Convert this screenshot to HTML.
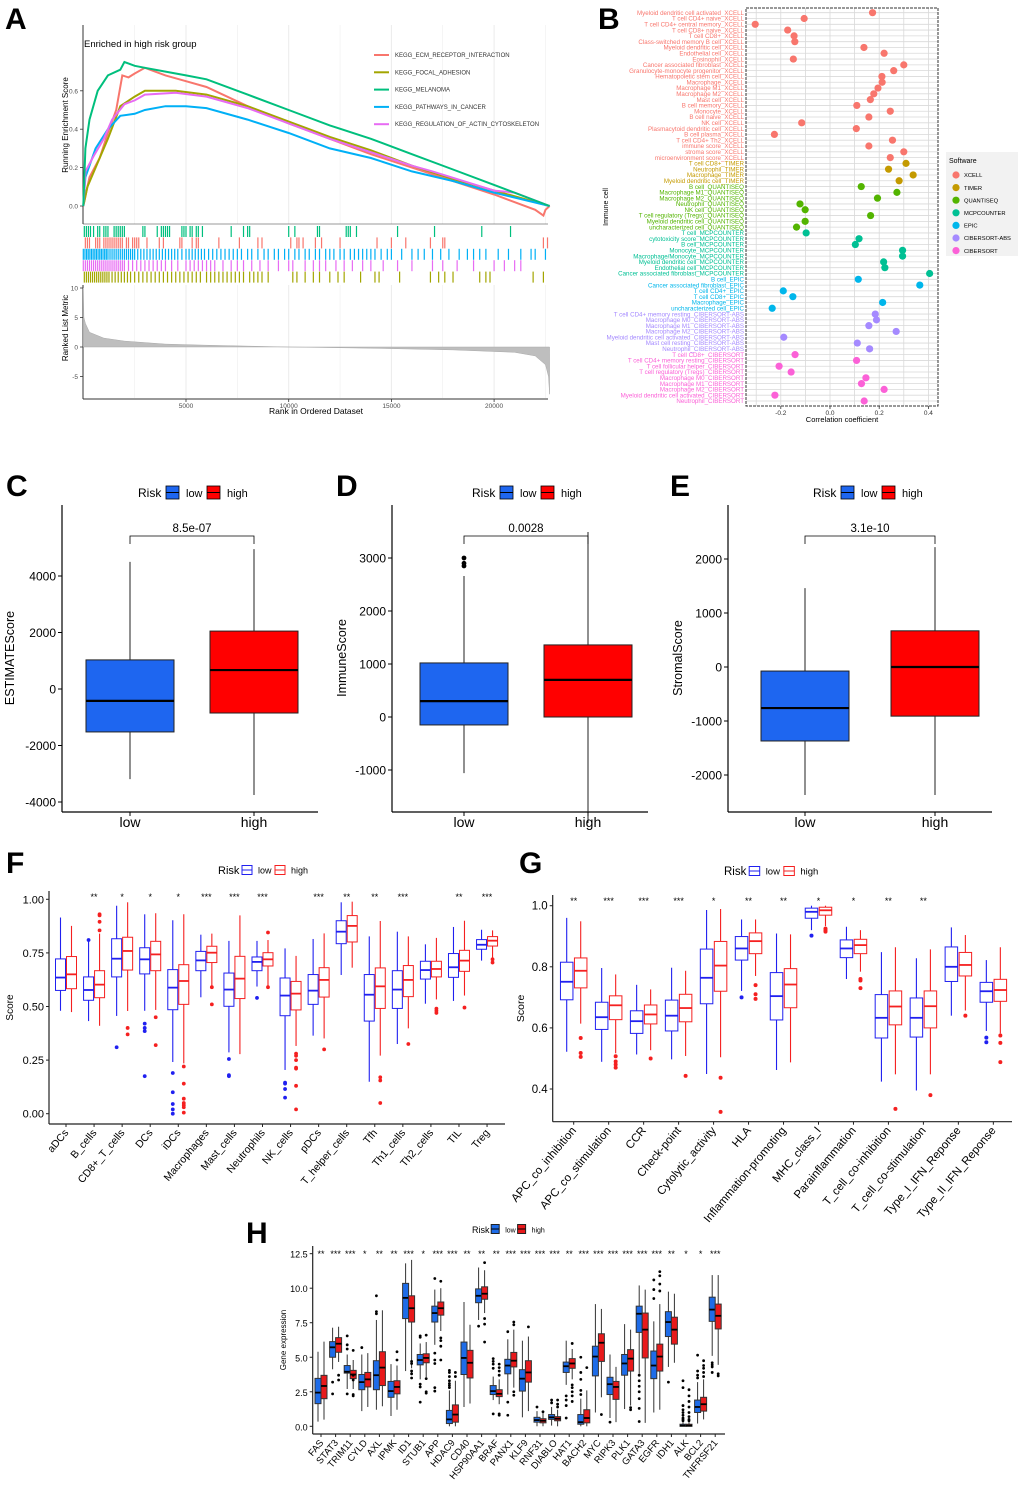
<!DOCTYPE html>
<html><head><meta charset="utf-8">
<style>
html,body{margin:0;padding:0;background:#fff;}
svg{display:block;font-family:"Liberation Sans",Arial,sans-serif;}
</style></head>
<body>
<svg id="fig" width="1020" height="1485" viewBox="0 0 1020 1485" xmlns="http://www.w3.org/2000/svg"></svg>
<script>
// ---------------- DATA ----------------
// Panel A (GSEA)
const gseaNames = ["KEGG_ECM_RECEPTOR_INTERACTION","KEGG_FOCAL_ADHESION","KEGG_MELANOMA","KEGG_PATHWAYS_IN_CANCER","KEGG_REGULATION_OF_ACTIN_CYTOSKELETON"];
const gseaColors = ["#F8766D","#A3A500","#00BF7D","#00B0F6","#E76BF3"];
const esEcm = [[0,0],[300,0.15],[800,0.25],[1200,0.38],[1600,0.5],[1900,0.68],[2200,0.67],[2500,0.69],[3000,0.72],[4000,0.68],[5000,0.65],[6000,0.62],[8000,0.52],[10000,0.43],[12000,0.35],[14000,0.27],[16000,0.2],[18000,0.13],[20000,0.06],[22000,-0.02],[22400,-0.05],[22500,-0.02],[22700,0]];
const esFocal = [[0,0],[200,0.1],[600,0.2],[1200,0.35],[1800,0.52],[2500,0.57],[3000,0.6],[4500,0.6],[6000,0.58],[8000,0.52],[10000,0.44],[12000,0.36],[14000,0.29],[16000,0.21],[18000,0.14],[20000,0.08],[22700,0]];
const esMel = [[0,0],[100,0.3],[300,0.45],[700,0.6],[1200,0.68],[1800,0.71],[2000,0.75],[2500,0.73],[3000,0.72],[4000,0.7],[5000,0.68],[6000,0.66],[8000,0.58],[10000,0.5],[12000,0.42],[14000,0.35],[16000,0.27],[18000,0.19],[20000,0.11],[22700,0]];
const esPath = [[0,0],[100,0.15],[600,0.3],[1200,0.4],[1800,0.47],[2500,0.48],[3000,0.5],[4000,0.52],[5000,0.52],[6000,0.51],[8000,0.45],[10000,0.38],[12000,0.3],[14000,0.25],[16000,0.18],[18000,0.13],[20000,0.07],[22700,0]];
const esActin = [[0,0],[100,0.18],[500,0.26],[1000,0.35],[1400,0.45],[2000,0.53],[2500,0.55],[3000,0.58],[4500,0.59],[6000,0.57],[8000,0.51],[10000,0.43],[12000,0.35],[14000,0.28],[16000,0.21],[17000,0.18],[20000,0.08],[21000,0.07],[22700,0]];
const hitsMel = [50,150,250,350,500,700,800,1000,1100,1200,1500,1600,1700,1800,1900,2000,2900,3000,3600,3800,3900,4000,4100,4200,4800,4900,5000,5200,5300,5500,5600,5800,7200,7800,8000,8100,10000,10300,11400,11500,12800,12900,13000,13300,15300,17100,19400,20800];
const hitsEcm = [100,200,300,600,700,800,1000,1100,1200,1300,1400,1500,1600,1700,1800,1900,2100,2200,2400,2500,2600,2700,3100,3700,3900,4700,4800,5300,5500,5600,6600,7600,8500,8700,10100,10400,10500,10700,11300,11600,12500,14300,15000,15700,16900,17500,17600,22400,22600];
const hitsPath = [0,80,160,240,320,400,480,560,640,720,800,880,960,1040,1120,1200,1300,1400,1500,1600,1700,1800,1900,2000,2100,2200,2300,2400,2500,2650,2800,2950,3100,3250,3400,3550,3700,3850,4000,4150,4300,4450,4600,4800,5000,5150,5300,5450,5600,5750,5900,6100,6300,6500,6700,6900,7100,7300,7500,7700,8000,8200,8500,8800,9000,9300,9500,9800,10000,10300,10500,10800,11000,11300,11500,11800,12000,12200,12500,12700,13000,13200,13400,13600,13800,14000,14200,14500,14800,15000,15500,16000,16300,16600,17000,17400,17800,18300,18700,19000,19300,19600,20200,20700,21300,21800,22000,22500];
const hitsActin = [0,100,200,300,400,500,600,700,800,900,1000,1100,1200,1300,1400,1500,1600,1700,1800,1900,2000,2200,2400,2600,2800,3000,3200,3400,3600,3800,4000,4300,4600,5000,5200,5400,5600,5800,6000,6200,6400,6800,7200,7500,7800,8200,8600,9000,9500,10000,10200,10800,11200,11500,11800,12300,12700,13100,13600,14000,14600,15300,16000,17000,17500,18200,19000,20000,20500,21000,21300];
const hitsFocal = [50,150,250,350,450,550,650,750,850,950,1050,1150,1250,1400,1550,1700,1850,2000,2150,2300,2500,2700,2900,3100,3300,3500,3700,3900,4100,4300,4500,4700,4900,5100,5300,5500,5700,6000,6200,6400,6600,6800,7000,7200,7400,7600,7800,8100,8300,8500,8700,9000,10200,10400,10800,11200,11500,12000,12400,12700,13500,14200,14400,15400,16900,17300,17600,18000,19300,19600,19800,21900,22400];
const rankedMetric = [[0,10],[30,5],[100,4],[300,2.5],[1000,1.5],[2000,1.0],[4000,0.5],[6000,0.3],[10000,0],[14000,-0.2],[18000,-0.5],[21000,-0.9],[22000,-1.5],[22500,-3],[22650,-5],[22700,-8]];
const aXTicks = [5000,10000,15000,20000];
const aYTicks = [0,0.2,0.4,0.6];
const aMetricTicks = [10,5,0,-5];

// Panel B
const bLabels = ["Myeloid dendritic cell activated_XCELL","T cell CD4+ naive_XCELL","T cell CD4+ central memory_XCELL","T cell CD8+ naive_XCELL","T cell CD8+_XCELL","Class-switched memory B cell_XCELL","Myeloid dendritic cell_XCELL","Endothelial cell_XCELL","Eosinophil_XCELL","Cancer associated fibroblast_XCELL","Granulocyte-monocyte progenitor_XCELL","Hematopoietic stem cell_XCELL","Macrophage_XCELL","Macrophage M1_XCELL","Macrophage M2_XCELL","Mast cell_XCELL","B cell memory_XCELL","Monocyte_XCELL","B cell naive_XCELL","NK cell_XCELL","Plasmacytoid dendritic cell_XCELL","B cell plasma_XCELL","T cell CD4+ Th2_XCELL","immune score_XCELL","stroma score_XCELL","microenvironment score_XCELL",
"T cell CD8+_TIMER","Neutrophil_TIMER","Macrophage_TIMER","Myeloid dendritic cell_TIMER",
"B cell_QUANTISEQ","Macrophage M1_QUANTISEQ","Macrophage M2_QUANTISEQ","Neutrophil_QUANTISEQ","NK cell_QUANTISEQ","T cell regulatory (Tregs)_QUANTISEQ","Myeloid dendritic cell_QUANTISEQ","uncharacterized cell_QUANTISEQ",
"T cell_MCPCOUNTER","cytotoxicity score_MCPCOUNTER","B cell_MCPCOUNTER","Monocyte_MCPCOUNTER","Macrophage/Monocyte_MCPCOUNTER","Myeloid dendritic cell_MCPCOUNTER","Endothelial cell_MCPCOUNTER","Cancer associated fibroblast_MCPCOUNTER",
"B cell_EPIC","Cancer associated fibroblast_EPIC","T cell CD4+_EPIC","T cell CD8+_EPIC","Macrophage_EPIC","uncharacterized cell_EPIC",
"T cell CD4+ memory resting_CIBERSORT-ABS","Macrophage M0_CIBERSORT-ABS","Macrophage M1_CIBERSORT-ABS","Macrophage M2_CIBERSORT-ABS","Myeloid dendritic cell activated_CIBERSORT-ABS","Mast cell resting_CIBERSORT-ABS","Neutrophil_CIBERSORT-ABS",
"T cell CD8+_CIBERSORT","T cell CD4+ memory resting_CIBERSORT","T cell follicular helper_CIBERSORT","T cell regulatory (Tregs)_CIBERSORT","Macrophage M0_CIBERSORT","Macrophage M1_CIBERSORT","Macrophage M2_CIBERSORT","Myeloid dendritic cell activated_CIBERSORT","Neutrophil_CIBERSORT"];
const bValues = [0.173,-0.105,-0.304,-0.172,-0.146,-0.143,0.138,0.22,-0.149,0.3,0.259,0.211,0.212,0.195,0.178,0.164,0.109,0.245,0.158,-0.115,0.107,-0.226,0.254,0.158,0.3,0.245,
0.309,0.238,0.338,0.281,
0.127,0.272,0.193,-0.122,-0.101,0.165,-0.101,-0.136,
-0.097,0.118,0.103,0.295,0.295,0.218,0.223,0.405,
0.115,0.365,-0.19,-0.151,0.214,-0.235,
0.184,0.189,0.158,0.269,-0.188,0.111,0.161,
-0.142,0.108,-0.207,-0.158,0.146,0.128,0.22,-0.224,0.139];
const bSoftwares = ["XCELL","TIMER","QUANTISEQ","MCPCOUNTER","EPIC","CIBERSORT-ABS","CIBERSORT"];
const bSoftwareColors = ["#F8766D","#C49A00","#53B400","#00C094","#00B6EB","#A58AFF","#FB61D7"];
const bXTicks = [-0.2,0,0.2,0.4];

// Panels C, D, E : [lowerWhisker, q1, median, q3, upperWhisker]
const cLow = [-3190,-1520,-420,1030,4500];
const cHigh = [-3750,-850,670,2050,4950];
const cTicks = [4000,2000,0,-2000,-4000];
const dLow = [-1060,-150,300,1020,2660];
const dHigh = [-2000,0,700,1360,3490];
const dLowOut = [3000,2900,2850];
const dTicks = [3000,2000,1000,0,-1000];
const eLow = [-2370,-1370,-760,-75,1460];
const eHigh = [-2370,-910,0,670,2220];
const eTicks = [2000,1000,0,-1000,-2000];
const pValues = ["8.5e-07","0.0028","3.1e-10"];

// Panel F
const fCats = ["aDCs","B_cells","CD8+_T_cells","DCs","iDCs","Macrophages","Mast_cells","Neutrophils","NK_cells","pDCs","T_helper_cells","Tfh","Th1_cells","Th2_cells","TIL","Treg"];
const fLow = [[0.48,0.575,0.635,0.722,0.915],[0.432,0.529,0.577,0.638,0.807],[0.456,0.638,0.723,0.816,0.97],[0.48,0.652,0.72,0.774,0.93],[0.241,0.485,0.588,0.672,0.902],[0.543,0.667,0.715,0.757,0.835],[0.286,0.501,0.579,0.656,0.806],[0.593,0.667,0.708,0.731,0.806],[0.204,0.457,0.551,0.633,0.771],[0.364,0.51,0.574,0.649,0.815],[0.647,0.793,0.849,0.9,0.986],[0.149,0.432,0.555,0.649,0.827],[0.325,0.491,0.579,0.667,0.849],[0.513,0.628,0.67,0.711,0.79],[0.526,0.636,0.683,0.747,0.871],[0.714,0.767,0.788,0.812,0.858]];
const fHigh = [[0.474,0.583,0.65,0.733,0.876],[0.41,0.541,0.602,0.667,0.84],[0.479,0.67,0.759,0.823,0.986],[0.484,0.667,0.743,0.804,0.935],[0.235,0.51,0.619,0.695,0.93],[0.593,0.705,0.751,0.781,0.84],[0.278,0.537,0.63,0.734,0.925],[0.593,0.689,0.72,0.751,0.81],[0.316,0.484,0.56,0.617,0.736],[0.351,0.544,0.624,0.681,0.841],[0.681,0.801,0.876,0.924,0.989],[0.271,0.491,0.594,0.68,0.899],[0.398,0.546,0.624,0.691,0.827],[0.533,0.638,0.675,0.711,0.82],[0.551,0.664,0.714,0.762,0.9],[0.725,0.782,0.807,0.826,0.855]];
const fLowOut = [[],[0.81],[0.31],[0.42,0.40,0.385,0.175],[0.19,0.10,0.045,0.02,0],[],[0.255,0.18,0.175],[0.54],[0.145,0.14,0.115,0.075],[],[],[],[],[],[],[]];
const fHighOut = [[],[0.93,0.925,0.895,0.855],[0.40,0.37],[0.45,0.32],[0.22,0.14,0.07,0.05,0.04,0.03,0.005],[0.59,0.51],[],[0.845,0.59],[0.28,0.27,0.25,0.215,0.21,0.13,0.02],[0.30],[],[0.17,0.155,0.05],[0.325],[0.49,0.48,0.47],[0.495],[0.72,0.705]];
const fStars = ["","**","*","*","*","***","***","***","","***","**","**","***","","**","***"];
const fTicks = [1.00,0.75,0.50,0.25,0.00];

// Panel G
const gCats = ["APC_co_inhibition","APC_co_stimulation","CCR","Check-point","Cytolytic_activity","HLA","Inflammation-promoting","MHC_class_I","Parainflammation","T_cell_co-inhibition","T_cell_co-stimulation","Type_I_IFN_Reponse","Type_II_IFN_Reponse"];
const gLow = [[0.522,0.692,0.751,0.815,0.96],[0.489,0.595,0.635,0.684,0.796],[0.513,0.582,0.622,0.656,0.741],[0.497,0.59,0.64,0.691,0.797],[0.449,0.679,0.764,0.858,0.986],[0.721,0.822,0.86,0.899,0.955],[0.462,0.626,0.704,0.781,0.909],[0.92,0.959,0.98,0.992,1.0],[0.76,0.83,0.86,0.888,0.931],[0.424,0.567,0.633,0.709,0.848],[0.395,0.57,0.633,0.698,0.828],[0.64,0.752,0.8,0.865,0.929],[0.59,0.684,0.72,0.749,0.822]];
const gHigh = [[0.614,0.731,0.787,0.829,0.949],[0.517,0.627,0.674,0.705,0.775],[0.527,0.613,0.644,0.675,0.726],[0.508,0.62,0.665,0.71,0.787],[0.504,0.72,0.804,0.883,0.989],[0.77,0.843,0.884,0.911,0.955],[0.487,0.666,0.742,0.794,0.906],[0.933,0.969,0.985,0.995,1.0],[0.784,0.843,0.871,0.89,0.92],[0.448,0.61,0.67,0.721,0.864],[0.448,0.6,0.671,0.721,0.857],[0.657,0.77,0.806,0.847,0.904],[0.582,0.687,0.724,0.759,0.864]];
const gLowOut = [[],[],[],[],[],[0.70],[],[0.902],[],[],[],[],[0.568,0.553]];
const gHighOut = [[0.567,0.518,0.505],[0.507,0.49,0.48,0.47],[0.50],[0.443],[0.437,0.325],[0.74,0.71,0.695],[],[0.925,0.92,0.915],[0.76,0.755,0.73],[0.335],[0.38],[0.64],[0.575,0.551,0.488]];
const gStars = ["**","***","***","***","*","**","**","*","*","**","**","",""];
const gTicks = [1.0,0.8,0.6,0.4];

// Panel H
const hCats = ["FAS","STAT3","TRIM11","CYLD","AXL","IPMK","ID1","STUB1","APP","HDAC9","CD40","HSP90AA1","BRAF","PANX1","KLF9","RNF31","DIABLO","HAT1","BACH2","MYC","RIPK3","PLK1","GATA3","EGFR","IDH1","ALK","BCL2","TNFRSF21"];
const hLow = [[0.34,1.64,2.44,3.47,5.4],[4.13,5.0,5.72,6.13,7.14],[2.7,3.85,3.95,4.4,5.2],[1.1,2.65,3.2,3.75,5.2],[1.2,2.65,3.7,4.75,7.7],[0.75,2.1,2.55,3.25,4.5],[4.0,7.8,9.3,10.35,11.8],[3.4,4.45,4.8,5.2,6.0],[5.9,7.55,8.2,8.7,9.9],[0,0.2,0.5,1.15,2.6],[1.4,3.75,4.95,6.1,9.0],[7.7,8.95,9.45,9.95,11.5],[1.9,2.3,2.55,2.95,3.6],[2.3,3.8,4.4,4.85,6.3],[0.65,2.55,3.45,4.1,6.2],[0,0.3,0.45,0.65,1.1],[0.05,0.5,0.65,0.85,1.4],[3.0,3.9,4.35,4.65,6.2],[0,0.15,0.3,0.85,2.0],[1.0,3.65,5.05,5.8,8.85],[0.6,2.3,3.05,3.55,5.2],[1.25,3.7,4.55,5.2,7.4],[3.8,6.8,8.15,8.7,10.2],[1.0,3.45,4.4,5.45,7.6],[4.3,6.5,7.55,8.3,9.75],[0,0,0.05,0.15,0.3],[0.2,1.0,1.4,1.9,3.2],[5.1,7.6,8.45,9.35,10.95]];
const hHigh = [[0.48,2.0,2.92,3.69,6.13],[4.66,5.36,5.98,6.42,7.21],[2.7,3.45,3.75,4.05,4.8],[1.4,2.85,3.4,3.9,5.3],[1.45,2.95,4.25,5.4,8.4],[1.2,2.35,2.85,3.3,4.4],[4.2,7.55,8.55,9.45,12.05],[3.55,4.6,4.95,5.25,6.1],[6.9,8.05,8.55,9.0,10.0],[0,0.3,0.85,1.55,3.3],[1.65,3.5,4.6,5.5,7.35],[8.2,9.2,9.6,10.1,11.3],[1.6,2.15,2.35,2.65,3.4],[2.8,4.3,4.75,5.35,7.0],[1.1,3.2,3.9,4.75,6.5],[0,0.25,0.4,0.55,0.95],[0,0.4,0.55,0.7,1.2],[3.4,4.2,4.55,4.9,5.6],[0,0.25,0.6,1.2,2.6],[2.1,4.7,6.05,6.7,8.5],[0.3,1.95,2.85,3.25,4.3],[1.5,4.0,4.9,5.55,7.0],[0.25,4.95,7.0,8.2,9.9],[1.2,4.0,5.05,5.95,8.85],[4.6,5.95,7.0,7.9,9.6],[0,0,0.05,0.15,0.3],[0.5,1.1,1.6,2.1,3.4],[4.45,7.05,8.0,8.85,10.95]];
const hLowOut = [[],[3.2,2.35],[6.55,5.9,5.6,2.35],[5.7],[9.45,8.3,8.15],[],[],[6.55,6.45,3.05,2.85,1.75],[10.7,5.3,4.8,4.55,2.8,2.55],[4.05,3.9,3.6,3.3,3.1,2.95,2.8],[],[7.25],[4.9,4.7,4.5,4.2,0.9],[6.85,1.75,0.8],[],[1.4],[1.9,1.7],[2.2,1.9,1.5,0.6],[5.0,3.9,3.4,2.6,2.3],[],[0.3],[],[3.7,3.3,2.9,2.5,2.0,1.3,0.35],[10.6,9.9,9.25],[3.2],[3.3,2.8,1.5,1.2,1.0,0.8,0.6,0.5,0.4],[5.15,4.0,3.7,3.5],[4.6,4.45,4.3,3.9]];
const hHighOut = [[],[3.7,3.35],[5.5,3.7,3.35,2.3,2.2],[],[],[5.4,4.8],[4.7,4.55,4.0,3.8,3.5],[6.6,3.45,2.5,2.4],[10.5,6.4,6.2,5.8,4.8],[3.9,3.6],[],[11.85,7.8,7.4,6.1],[4.5,4.25,4.0,3.7,0.9,0.8],[7.55,7.35,2.5,2.25],[7.2],[1.05],[1.9,1.6,1.4],[6.0,3.0,2.8,2.5,2.2,1.8],[4.25],[0.85],[],[1.35,1.2],[],[11.2,10.9,10.3,9.8],[],[2.65,2.2,1.8,1.4,1.0,0.7,0.5,0.4],[4.75,4.4,4.2,3.9,3.6],[3.8,3.65]];
const hStars = ["**","***","***","*","**","**","***","*","***","***","**","**","**","***","***","***","***","**","***","***","***","***","***","***","**","*","*","***"];
const hTicks = [12.5,10.0,7.5,5.0,2.5,0.0];

// ---------------- DRAWING ----------------
const NS = "http://www.w3.org/2000/svg";
const svg = document.getElementById("fig");
function mk(tag, attrs, parent) {
  const e = document.createElementNS(NS, tag);
  for (const k in attrs) e.setAttribute(k, attrs[k]);
  (parent || svg).appendChild(e);
  return e;
}
function grp(name) {
  const g = mk("g", {});
  
  
  return g;
}
function txt(p, x, y, s, size, anchor, fill, extra) {
  const a = {x: x, y: y, "font-size": size, "text-anchor": anchor || "start", fill: fill || "#000"};
  if (extra) for (const k in extra) a[k] = extra[k];
  const t = mk("text", a, p);
  t.textContent = s;
  return t;
}
function line(p, x1, y1, x2, y2, stroke, w, extra) {
  const a = {x1: x1, y1: y1, x2: x2, y2: y2, stroke: stroke, "stroke-width": w};
  if (extra) for (const k in extra) a[k] = extra[k];
  return mk("line", a, p);
}
function panelLabel(s, x, y) {
  const t = txt(svg, x, y, s, 30, "start", "#000", {"font-weight": "bold"});
  
  
}

// ===== Panel A =====
(function () {
  const g = grp("panel-a-gsea");
  panelLabel("A", 5, 29);
  const X = r => 83.3 + r / 5000 * 102.7;
  const Yes = v => 206 - v * 192;
  const Ym = v => 347 - v * 5.9;
  for (let r = 2500; r <= 22500; r += 2500) {
    const gl = line(g, X(r), 25, X(r), 224, "#EBEBEB", r % 5000 ? 0.5 : 1);
    
    const gl2 = line(g, X(r), 285, X(r), 398, "#EBEBEB", r % 5000 ? 0.5 : 1);
    
  }
  const ttl = txt(g, 84, 47, "Enriched in high risk group", 9.5);
  
  line(g, 83, 25, 83, 224, "#333", 1);
  line(g, 83, 224, 548, 224, "#333", 0.5);
  line(g, 83, 285, 83, 399, "#333", 1);
  line(g, 83, 399, 548, 399, "#333", 1);
  aYTicks.forEach(v => {
    line(g, 80, Yes(v), 83, Yes(v), "#333", 0.8);
    const t = txt(g, 78, Yes(v) + 2.5, v.toFixed(1), 6.5, "end", "#4D4D4D");
    
  });
  aMetricTicks.forEach(v => {
    line(g, 80, Ym(v), 83, Ym(v), "#333", 0.8);
    const t = txt(g, 78, Ym(v) + 2.5, String(v), 6.5, "end", "#4D4D4D");
    
  });
  aXTicks.forEach(v => {
    line(g, X(v), 399, X(v), 402, "#333", 0.8);
    const t = txt(g, X(v), 408, String(v), 6.5, "middle", "#4D4D4D");
    
  });
  const yt1 = txt(g, 0, 0, "Running Enrichment Score", 8, "middle", "#000", {transform: "translate(68,125) rotate(-90)"});
  
  const yt2 = txt(g, 0, 0, "Ranked List Metric", 8, "middle", "#000", {transform: "translate(68,328) rotate(-90)"});
  
  const xt = txt(g, 316, 414, "Rank in Ordered Dataset", 8.5, "middle");
  
  const series = [esEcm, esFocal, esMel, esPath, esActin];
  const order = [0, 1, 3, 4, 2];
  order.forEach(i => {
    const pts = series[i].map(p => X(p[0]).toFixed(1) + "," + Yes(p[1]).toFixed(1)).join(" ");
    const pl = mk("polyline", {points: pts, fill: "none", stroke: gseaColors[i], "stroke-width": 2}, g);
    
    
  });
  gseaNames.forEach((n, i) => {
    const y = 55 + i * 17.3;
    line(g, 374, y, 389, y, gseaColors[i], 2);
    const t = txt(g, 395, y + 2, n, 6, "start", "#333");
    
    
  });
  const hitSets = [hitsMel, hitsEcm, hitsPath, hitsActin, hitsFocal];
  const hitColors = ["#00BF7D", "#F8766D", "#00B0F6", "#E76BF3", "#A3A500"];
  hitSets.forEach((hs, k) => {
    const y0 = 226 + k * 11.4;
    hs.forEach(r => {
      const tk = line(g, X(r), y0, X(r), y0 + 11, hitColors[k], 1.2);
      
    });
  });
  let d = "M" + X(0) + "," + Ym(0);
  rankedMetric.forEach(p => { d += " L" + X(p[0]).toFixed(1) + "," + Ym(p[1]).toFixed(1); });
  d += " L" + X(22700) + "," + Ym(0) + " Z";
  const area = mk("path", {d: d, fill: "#BEBEBE", stroke: "#AAAAAA", "stroke-width": 0.5}, g);
  
  
})();

// ===== Panel B =====
(function () {
  const g = grp("panel-b-correlation");
  panelLabel("B", 598, 29);
  const X = v => 830 + v * 246;
  const n = bLabels.length;
  const Y = i => 12.7 + i * (388.3 / (n - 1));
  mk("rect", {x: 746, y: 8, width: 192, height: 398, fill: "#fff", stroke: "none"}, g);
  for (let v = -0.3; v <= 0.41; v += 0.1) {
    const gl = line(g, X(v), 8, X(v), 406, "#D9D9D9", 0.8);
    
  }
  const starts = [0, 26, 30, 38, 46, 52, 59, 68];
  function swIndex(i) { for (let k = 0; k < 7; k++) if (i < starts[k + 1]) return k; return 6; }
  for (let i = 0; i < n; i++) {
    const gl = line(g, 746, Y(i), 938, Y(i), "#D9D9D9", 0.8);
    
  }
  const frame = mk("rect", {x: 746, y: 8, width: 192, height: 398, fill: "none", stroke: "#333", "stroke-width": 1, "stroke-dasharray": "3,1"}, g);
  
  for (let i = 0; i < n; i++) {
    const k = swIndex(i);
    const t = txt(g, 744, Y(i) + 2.2, bLabels[i], 6.2, "end", bSoftwareColors[k]);
    
    const c = mk("circle", {cx: X(bValues[i]), cy: Y(i), r: 3.6, fill: bSoftwareColors[k]}, g);
    
    
  }
  bXTicks.forEach(v => {
    line(g, X(v), 406, X(v), 409, "#333", 0.8);
    const t = txt(g, X(v), 415, v === 0 ? "0.0" : v.toFixed(1), 6.5, "middle", "#333");
    
  });
  const xt = txt(g, 842, 422, "Correlation coefficient", 7.5, "middle");
  
  const yt = txt(g, 0, 0, "Immune cell", 7, "middle", "#000", {transform: "translate(608,207) rotate(-90)"});
  
  mk("rect", {x: 946, y: 152, width: 72, height: 104, fill: "#F2F2F2"}, g);
  const lt = txt(g, 949, 163, "Software", 7, "start");
  
  bSoftwares.forEach((s, k) => {
    const y = 175 + k * 12.6;
    const c = mk("circle", {cx: 956, cy: y, r: 3.6, fill: bSoftwareColors[k]}, g);
    
    const t = txt(g, 964, y + 2.2, s, 5.8, "start");
    
    
  });
})();

// ===== Panels C, D, E =====
function scorePanel(cfg) {
  const g = grp(cfg.name);
  panelLabel(cfg.label, cfg.lx, 496);
  const Y = cfg.Y;
  const lgY = 492;
  const rt = txt(g, cfg.legX, lgY + 5, "Risk", 12);
  
  const s1 = mk("rect", {x: cfg.legX + 28, y: lgY - 6, width: 13, height: 13, fill: "#1E66F0", stroke: "#000", "stroke-width": 0.8}, g);
  
  line(g, cfg.legX + 28, lgY + 0.5, cfg.legX + 41, lgY + 0.5, "#000", 1);
  const l1 = txt(g, cfg.legX + 48, lgY + 5, "low", 11);
  
  
  const s2 = mk("rect", {x: cfg.legX + 69, y: lgY - 6, width: 13, height: 13, fill: "#FF0000", stroke: "#000", "stroke-width": 0.8}, g);
  
  line(g, cfg.legX + 69, lgY + 0.5, cfg.legX + 82, lgY + 0.5, "#000", 1);
  const l2 = txt(g, cfg.legX + 89, lgY + 5, "high", 11);
  
  
  line(g, cfg.x0, 505, cfg.x0, 812, "#000", 1.2);
  line(g, cfg.x0, 812, cfg.x1, 812, "#000", 1.2);
  cfg.ticks.forEach(v => {
    line(g, cfg.x0 - 4, Y(v), cfg.x0, Y(v), "#000", 1);
    const t = txt(g, cfg.x0 - 6, Y(v) + 4.5, String(v), 12, "end");
    
  });
  const yt = txt(g, 0, 0, cfg.ytitle, 12.5, "middle", "#000", {transform: "translate(" + cfg.ytx + ",658) rotate(-90)"});
  
  const groups = [cfg.low, cfg.high];
  const cols = ["#1E66F0", "#FF0000"];
  const names = ["low", "high"];
  groups.forEach((s, i) => {
    const cx = cfg.cx[i];
    const w = 44;
    const wl = line(g, cx, Y(s[0]), cx, Y(s[4]), "#222", 1);
    
    const b = mk("rect", {x: cx - w, y: Y(s[3]), width: 2 * w, height: Y(s[1]) - Y(s[3]), fill: cols[i], stroke: "#222", "stroke-width": 1}, g);
    
    
    const m = line(g, cx - w, Y(s[2]), cx + w, Y(s[2]), "#000", 2.2);
    
    line(g, cx, 812, cx, 816, "#000", 1);
    const t = txt(g, cx, 827, names[i], 14, "middle");
    
  });
  (cfg.lowOut || []).forEach(v => {
    const c = mk("circle", {cx: cfg.cx[0], cy: Y(v), r: 2.4, fill: "#000"}, g);
    
  });
  const by = 536;
  const br = mk("polyline", {points: cfg.cx[0] + "," + (by + 8) + " " + cfg.cx[0] + "," + by + " " + cfg.cx[1] + "," + by + " " + cfg.cx[1] + "," + (by + 8), fill: "none", stroke: "#000", "stroke-width": 0.8}, g);
  
  const pt = txt(g, (cfg.cx[0] + cfg.cx[1]) / 2, by - 4, cfg.p, 11.5, "middle");
  
}
scorePanel({name: "panel-c-estimate", label: "C", lx: 6, legX: 138, x0: 62, x1: 318, cx: [130, 254], Y: v => 689 - v * 0.02825, ticks: cTicks, low: cLow, high: cHigh, ytitle: "ESTIMATEScore", ytx: 14, p: pValues[0]});
scorePanel({name: "panel-d-immune", label: "D", lx: 336, legX: 472, x0: 392, x1: 648, cx: [464, 588], Y: v => 717 - v * 0.053, ticks: dTicks, low: dLow, high: dHigh, lowOut: dLowOut, ytitle: "ImmuneScore", ytx: 346, p: pValues[1]});
scorePanel({name: "panel-e-stromal", label: "E", lx: 670, legX: 813, x0: 728, x1: 992, cx: [805, 935], Y: v => 667 - v * 0.054, ticks: eTicks, low: eLow, high: eHigh, ytitle: "StromalScore", ytx: 682, p: pValues[2]});

// ===== Box panels F, G, H =====
function boxPanel(cfg) {
  const g = grp(cfg.name);
  panelLabel(cfg.label, cfg.lx, cfg.ly);
  const Y = cfg.Y;
  const X = i => cfg.c0 + i * cfg.step;
  const ly = cfg.legY;
  const rt = txt(g, cfg.legX, ly + 4, "Risk", cfg.legFont + 1);
  
  const lx1 = cfg.legX + cfg.legFont * 2.4;
  const sw1 = mk("rect", {x: lx1, y: ly - 4.5, width: cfg.legFont, height: 9, fill: cfg.filled ? cfg.colors[0] : "#fff", stroke: cfg.filled ? "#222" : cfg.colors[0], "stroke-width": 1}, g);
  
  line(g, lx1, ly, lx1 + cfg.legFont, ly, cfg.filled ? "#000" : cfg.colors[0], 1);
  const t1 = txt(g, lx1 + cfg.legFont + 6, ly + 3.5, "low", cfg.legFont - 1);
  
  
  const lx2 = lx1 + cfg.legFont * 3.3;
  const sw2 = mk("rect", {x: lx2, y: ly - 4.5, width: cfg.legFont, height: 9, fill: cfg.filled ? cfg.colors[1] : "#fff", stroke: cfg.filled ? "#222" : cfg.colors[1], "stroke-width": 1}, g);
  
  line(g, lx2, ly, lx2 + cfg.legFont, ly, cfg.filled ? "#000" : cfg.colors[1], 1);
  const t2 = txt(g, lx2 + cfg.legFont + 6, ly + 3.5, "high", cfg.legFont - 1);
  
  
  line(g, cfg.x0, cfg.yTop, cfg.x0, cfg.yBot, "#222", 1.2);
  line(g, cfg.x0, cfg.yBot, cfg.x1, cfg.yBot, "#222", 1.2);
  cfg.ticks.forEach(v => {
    line(g, cfg.x0 - 3, Y(v), cfg.x0, Y(v), "#222", 1);
    const t = txt(g, cfg.x0 - 5, Y(v) + 4, v.toFixed(cfg.dec), cfg.tickFont, "end");
    
  });
  const yt = txt(g, 0, 0, cfg.ytitle, cfg.tickFont - 1, "middle", "#000", {transform: "translate(" + cfg.ytx + "," + ((cfg.yTop + cfg.yBot) / 2) + ") rotate(-90)"});
  
  const sets = [[cfg.low, cfg.lowOut], [cfg.high, cfg.highOut]];
  cfg.cats.forEach((c, i) => {
    const cx = X(i);
    line(g, cx, cfg.yBot, cx, cfg.yBot + 3, "#222", 1);
    const lt = txt(g, 0, 0, c, cfg.labFont, "end", "#000", {transform: "translate(" + (cx + 3) + "," + (cfg.yBot + 9) + ") rotate(-50)"});
    
    if (cfg.stars[i]) {
      const st = txt(g, cx, cfg.starY, cfg.stars[i], 9, "middle");
      
    }
    sets.forEach((pair, k) => {
      const s = pair[0][i];
      const bx = cx + cfg.off[k];
      const col = cfg.colors[k];
      const hw = cfg.bw / 2;
      const stroke = cfg.filled ? "#333" : col;
      const wl = line(g, bx, Y(s[0]), bx, Y(s[4]), stroke, cfg.filled ? 1 : 1.1);
      
      const b = mk("rect", {x: bx - hw, y: Y(s[3]), width: cfg.bw, height: Math.max(0.5, Y(s[1]) - Y(s[3])), fill: cfg.filled ? col : "#fff", stroke: stroke, "stroke-width": 1}, g);
      
      
      const m = line(g, bx - hw, Y(s[2]), bx + hw, Y(s[2]), cfg.filled ? "#000" : col, 1.8);
      
      pair[1][i].forEach(v => {
        const o = mk("circle", {cx: bx, cy: Y(v), r: cfg.or, fill: cfg.filled ? "#000" : col}, g);
        
      });
    });
  });
}
boxPanel({name: "panel-f-immune-cells", label: "F", lx: 6, ly: 873, legX: 218, legY: 870, legFont: 10, x0: 49, x1: 505, yTop: 891, yBot: 1124,
  Y: v => 1113.7 - v * 214.4, c0: 66, step: 28.07, off: [-5.5, 5.5], bw: 10, cats: fCats, low: fLow, high: fHigh, lowOut: fLowOut, highOut: fHighOut,
  stars: fStars, starY: 900, ticks: fTicks, dec: 2, tickFont: 11, labFont: 10.5, ytitle: "Score", ytx: 13, colors: ["#2020F0", "#F52020"], filled: false, or: 1.9});
boxPanel({name: "panel-g-immune-functions", label: "G", lx: 519, ly: 873, legX: 724, legY: 871, legFont: 10.5, x0: 552.7, x1: 1012, yTop: 895, yBot: 1121.7,
  Y: v => 905.7 + (1 - v) * 305.5, c0: 573.7, step: 34.97, off: [-7, 7], bw: 12.5, cats: gCats, low: gLow, high: gHigh, lowOut: gLowOut, highOut: gHighOut,
  stars: gStars, starY: 904, ticks: gTicks, dec: 1, tickFont: 11.5, labFont: 11.5, ytitle: "Score", ytx: 524, colors: ["#2020F0", "#F52020"], filled: false, or: 2});
boxPanel({name: "panel-h-gene-expression", label: "H", lx: 246, ly: 1243, legX: 472, legY: 1229, legFont: 8, x0: 312.7, x1: 725, yTop: 1246, yBot: 1434,
  Y: v => 1426.3 - v * 13.81, c0: 321, step: 14.6, off: [-3, 3], bw: 6, cats: hCats, low: hLow, high: hHigh, lowOut: hLowOut, highOut: hHighOut,
  stars: hStars, starY: 1257, ticks: hTicks, dec: 1, tickFont: 9, labFont: 9.5, ytitle: "Gene expression", ytx: 286, colors: ["#1E6CE8", "#E8191B"], filled: true, or: 1.4});
</script>
</body></html>
